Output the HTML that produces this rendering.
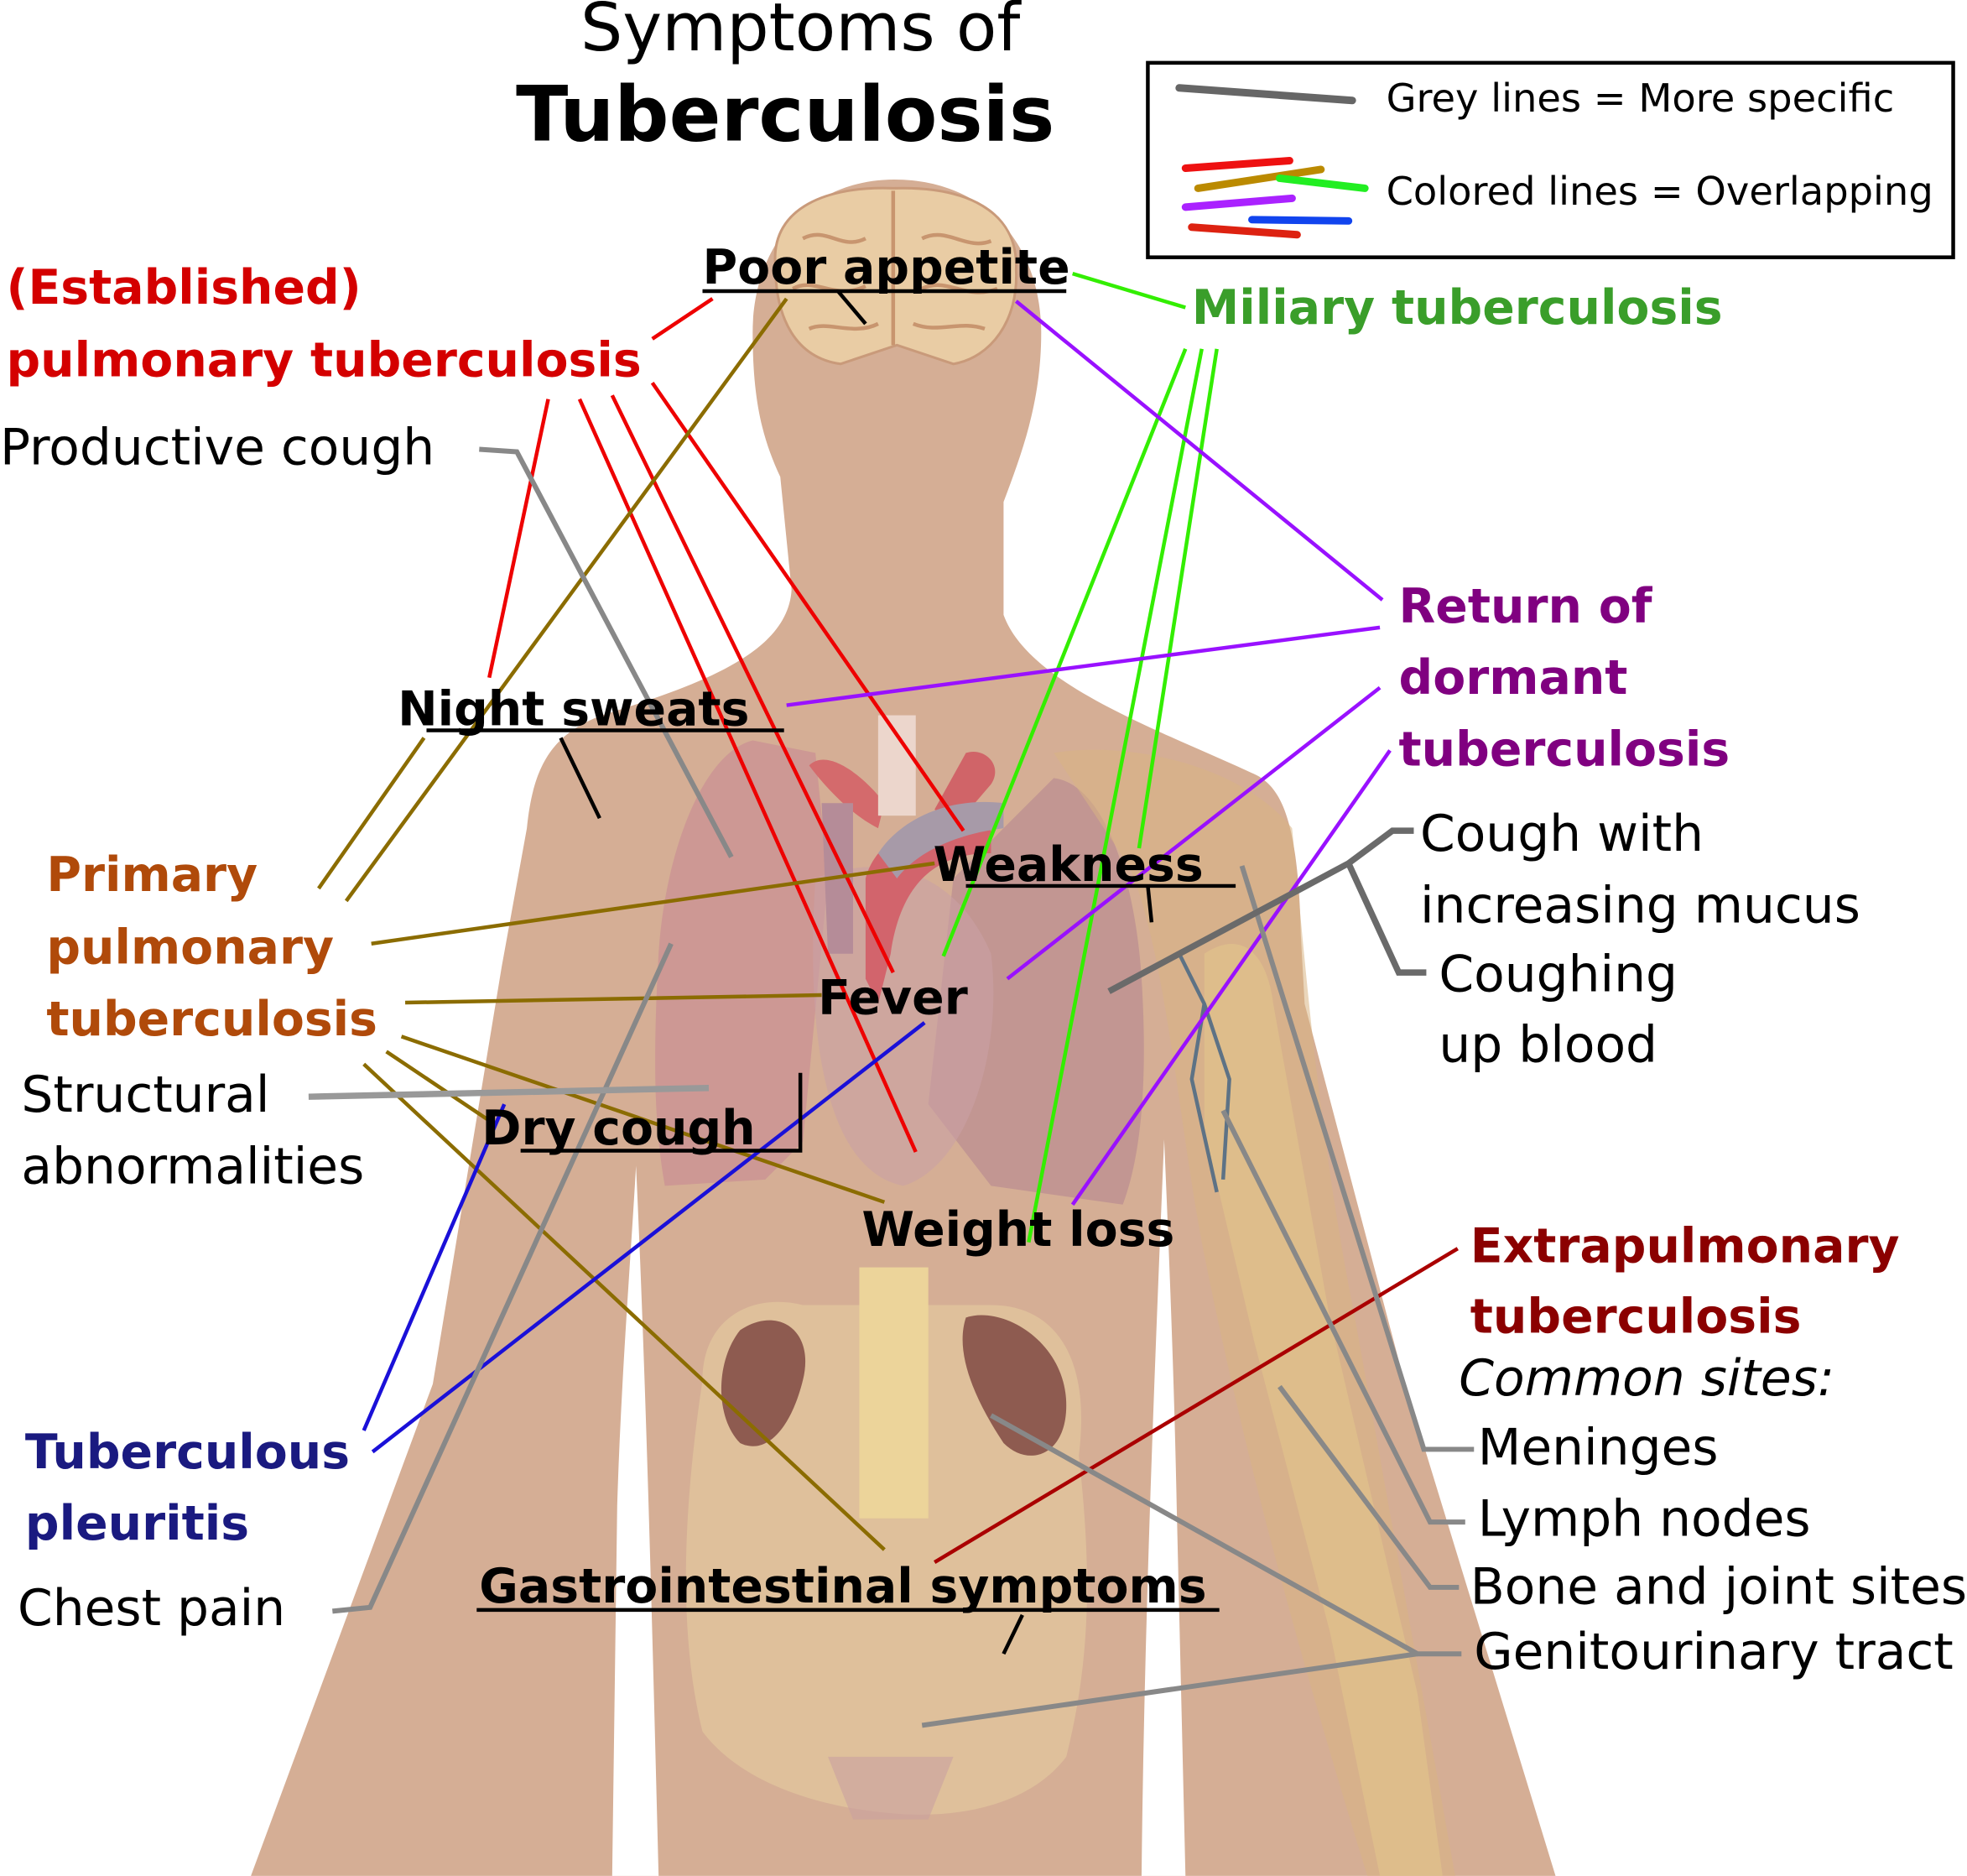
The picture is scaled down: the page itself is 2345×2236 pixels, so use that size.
<!DOCTYPE html>
<html><head><meta charset="utf-8"><style>
html,body{margin:0;padding:0;background:#fff;}
svg{display:block;}
text{font-family:"DejaVu Sans","Liberation Sans",sans-serif;}
.b{font-weight:bold;font-size:38px;}
</style></head><body>
<svg width="2345" height="2236" viewBox="0 0 1568 1495" xmlns="http://www.w3.org/2000/svg">
<path fill="#d5ae95" d="M713,143 C645,143 600,195 600,265 C600,320 608,350 622,380 L631,470 C628,520 560,545 480,570 C440,585 425,610 420,660 L400,770 L345,1103 L200,1495 L1240,1495 L1120,1103 L1040,800 L1037,746 C1035,650 1020,625 998,616 C920,580 820,545 800,490 L800,400 C815,360 830,320 830,265 C830,195 785,143 713,143 Z"/>
<path fill="#fff" d="M507,929 C503,1000 495,1100 492,1200 L488,1495 L525,1495 C520,1300 515,1100 507,929 Z"/>
<path fill="#fff" d="M928,908 C932,1000 936,1100 938,1200 L945,1495 L910,1495 C912,1300 920,1100 928,908 Z"/>
<path fill="#e9cca4" stroke="#c99a7a" stroke-width="2" d="M618,210 C615,165 660,148 712,150 C770,148 812,168 810,215 C812,255 790,285 760,290 L715,275 L670,290 C635,285 618,255 618,210 Z"/>
<path fill="none" stroke="#c8956f" stroke-width="3" d="M712,152 L712,275 M640,190 C660,180 670,200 690,190 M735,190 C755,180 770,200 790,192 M632,230 C650,220 665,240 690,228 M735,230 C755,220 770,240 795,230 M645,262 C660,255 680,268 700,258 M728,258 C748,266 765,255 785,262"/>
<path fill="#c99094" opacity="0.75" d="M600,590 C560,600 530,680 525,760 C520,850 522,900 530,945 L610,940 L640,910 L660,700 L650,600 Z"/>
<path fill="#b98c92" opacity="0.7" d="M840,620 C880,625 905,700 910,780 C915,860 910,920 895,960 L790,945 L740,880 L760,700 Z"/>
<path fill="#c9a0a5" opacity="0.6" d="M650,700 C700,680 760,690 790,760 C800,840 770,930 720,945 C670,935 640,860 650,700 Z"/>
<path fill="#d46a6c" d="M645,610 C660,595 690,620 705,640 L700,660 C680,650 660,630 645,610 Z"/>
<path fill="#d06468" d="M770,600 C785,595 800,610 790,625 L760,660 L745,645 Z"/>
<rect x="700" y="570" width="30" height="80" fill="#ecd6cc"/>
<path fill="#b58c98" d="M655,640 L680,640 L680,760 L660,760 Z"/>
<path fill="#d2646c" d="M690,700 C700,660 760,640 790,650 L790,680 C760,680 720,690 710,760 L700,800 L690,780 Z"/>
<path fill="#a79aa8" d="M700,680 C720,650 760,635 800,640 L800,660 C760,665 730,680 715,700 Z"/>
<path fill="#d9b483" opacity="0.55" d="M840,600 C900,590 990,610 1030,660 C1040,760 1050,900 1080,1050 L1160,1495 L1090,1495 C1030,1300 990,1150 960,1000 C940,900 930,760 900,690 Z"/>
<path fill="#e2c48c" opacity="0.6" d="M960,760 C990,740 1010,760 1015,800 L1060,1050 L1130,1350 L1150,1495 L1100,1495 L1060,1300 L1000,1070 L960,900 Z"/>
<path fill="none" stroke="#5d7285" stroke-width="3" d="M940,760 L960,800 L950,860 L970,950 M960,800 L980,860 L975,940"/>
<path fill="#e3c79e" opacity="0.7" d="M560,1100 C560,1050 600,1030 640,1040 L790,1040 C840,1040 870,1080 860,1160 C870,1250 870,1320 850,1400 C820,1440 760,1450 710,1445 C650,1440 590,1420 560,1380 C540,1300 545,1200 560,1100 Z"/>
<rect x="685" y="1010" width="55" height="200" fill="#ecd49a"/>
<path fill="#8e5b50" d="M590,1060 C620,1040 650,1060 640,1100 C630,1140 610,1160 590,1150 C570,1130 570,1085 590,1060 Z"/>
<path fill="#8e5b50" d="M770,1050 C800,1040 850,1070 850,1120 C850,1160 820,1170 800,1150 C780,1120 760,1080 770,1050 Z"/>
<path fill="#c9a0a0" opacity="0.6" d="M660,1400 L760,1400 L740,1450 L680,1450 Z"/>

<rect x="915" y="50" width="642" height="155" fill="#fff" stroke="#000" stroke-width="3"/>
<line x1="940" y1="70" x2="1078" y2="80" stroke="#666" stroke-width="6" stroke-linecap="round"/>
<g stroke-width="6" stroke-linecap="round">
<line x1="945" y1="134" x2="1028" y2="128" stroke="#ee1111"/>
<line x1="955" y1="150" x2="1053" y2="135" stroke="#bb8a00"/>
<line x1="1020" y1="142" x2="1088" y2="150" stroke="#22ee22"/>
<line x1="945" y1="165" x2="1030" y2="158" stroke="#aa22ff"/>
<line x1="998" y1="175" x2="1075" y2="176" stroke="#1144ee"/>
<line x1="950" y1="181" x2="1034" y2="187" stroke="#dd2211"/>
</g>
<text x="1105" y="89" font-size="31">Grey lines = More specific</text>
<text x="1105" y="163" font-size="31">Colored lines = Overlapping</text>

<text x="638" y="40" font-size="53" text-anchor="middle">Symptoms of</text>
<text x="626" y="112" font-size="61" font-weight="bold" text-anchor="middle">Tuberculosis</text>

<g fill="none" stroke-width="3">
<g stroke="#ee0000">
<line x1="520" y1="270" x2="568" y2="238"/>
<line x1="437" y1="318" x2="390" y2="540"/>
<line x1="462" y1="318" x2="730" y2="918"/>
<line x1="488" y1="315" x2="712" y2="775"/>
<line x1="520" y1="305" x2="768" y2="662"/>
</g>
<g stroke="#8b6c00">
<line x1="254" y1="708" x2="338" y2="588"/>
<line x1="276" y1="718" x2="627" y2="238"/>
<line x1="296" y1="752" x2="745" y2="688"/>
<line x1="323" y1="799" x2="655" y2="793"/>
<line x1="320" y1="826" x2="705" y2="958"/>
<line x1="308" y1="838" x2="390" y2="893"/>
<line x1="290" y1="848" x2="705" y2="1235"/>
</g>
<g stroke="#33ee00">
<line x1="855" y1="218" x2="945" y2="245"/>
<line x1="945" y1="278" x2="752" y2="762"/>
<line x1="958" y1="278" x2="820" y2="990"/>
<line x1="970" y1="278" x2="908" y2="676"/>
</g>
<g stroke="#9911ff">
<line x1="810" y1="240" x2="1102" y2="478"/>
<line x1="1100" y1="500" x2="627" y2="562"/>
<line x1="1100" y1="548" x2="803" y2="780"/>
<line x1="1108" y1="598" x2="855" y2="960"/>
</g>
<g stroke="#1a10d8">
<line x1="402" y1="880" x2="290" y2="1140"/>
<line x1="737" y1="815" x2="297" y2="1157"/>
</g>
<line x1="1162" y1="995" x2="745" y2="1245" stroke="#aa0000"/>
<g stroke="#888" stroke-width="4">
<polyline points="382,358 412,360 583,683"/>
<polyline points="265,1284 295,1281 535,752"/>
<line x1="246" y1="874" x2="565" y2="867" stroke="#999" stroke-width="5"/>
<polyline points="1175,1155 1135,1155 990,690"/>
<polyline points="1168,1213 1140,1213 975,885"/>
<polyline points="1163,1265 1140,1265 1020,1105"/>
<polyline points="1165,1318 1130,1318 790,1128"/>
<line x1="1130" y1="1318" x2="735" y2="1375"/>
</g>
<g stroke="#6a6a6a" stroke-width="5">
<polyline points="1127,662 1110,662 1075,688 884,790"/>
<polyline points="1075,688 1115,775 1137,775"/>
</g>
<g stroke="#000" stroke-width="3">
<line x1="560" y1="232" x2="850" y2="232"/>
<line x1="668" y1="232" x2="690" y2="258"/>
<line x1="340" y1="582" x2="625" y2="582"/>
<line x1="447" y1="588" x2="478" y2="652"/>
<line x1="770" y1="706" x2="985" y2="706"/>
<line x1="915" y1="706" x2="918" y2="735"/>
<polyline points="415,917 638,917 638,855"/>
<line x1="380" y1="1283" x2="972" y2="1283"/>
<line x1="815" y1="1287" x2="800" y2="1318"/>
</g>
</g>

<g font-size="40">
<text x="5" y="242" class="b" fill="#d40000">(Established)</text>
<text x="5" y="300" class="b" fill="#d40000">pulmonary tuberculosis</text>
<text x="0" y="370">Productive cough</text>
<text x="560" y="226" class="b">Poor appetite</text>
<text x="950" y="258" class="b" fill="#3a9e2a">Miliary tuberculosis</text>
<text x="1115" y="496" class="b" fill="#800080">Return of</text>
<text x="1115" y="553" class="b" fill="#800080">dormant</text>
<text x="1115" y="610" class="b" fill="#800080">tuberculosis</text>
<text x="317" y="578" class="b">Night sweats</text>
<text x="744" y="702" class="b">Weakness</text>
<text x="37" y="710" class="b" fill="#b04a0a">Primary</text>
<text x="37" y="768" class="b" fill="#b04a0a">pulmonary</text>
<text x="37" y="825" class="b" fill="#b04a0a">tuberculosis</text>
<text x="1132" y="678">Cough with</text>
<text x="1132" y="735">increasing mucus</text>
<text x="1147" y="790">Coughing</text>
<text x="1147" y="846">up blood</text>
<text x="652" y="808" class="b">Fever</text>
<text x="17" y="886">Structural</text>
<text x="17" y="943">abnormalities</text>
<text x="384" y="912" class="b">Dry cough</text>
<text x="687" y="993" class="b">Weight loss</text>
<text x="1172" y="1006" class="b" fill="#8b0000">Extrapulmonary</text>
<text x="1172" y="1062" class="b" fill="#8b0000">tuberculosis</text>
<text x="1163" y="1112" font-style="italic">Common sites:</text>
<text x="1178" y="1167">Meninges</text>
<text x="1178" y="1224">Lymph nodes</text>
<text x="1172" y="1278">Bone and joint sites</text>
<text x="1175" y="1330">Genitourinary tract</text>
<text x="20" y="1170" class="b" fill="#1a1a80">Tuberculous</text>
<text x="20" y="1227" class="b" fill="#1a1a80">pleuritis</text>
<text x="14" y="1295">Chest pain</text>
<text x="382" y="1277" class="b">Gastrointestinal symptoms</text>
</g>
</svg>
</body></html>
